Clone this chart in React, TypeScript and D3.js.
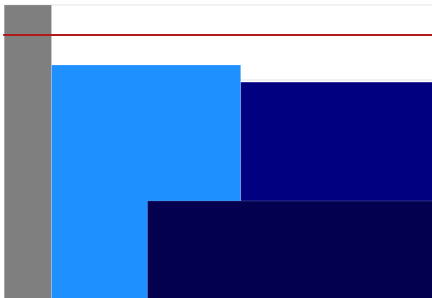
import React from "react";
import * as d3 from "d3";

const categories = ["A", "B", "C", "D"];
const startValues = [0, 1, 5, 3.03];
const endValues = [1, 5, 10, 10];
const heightValues = [100, 80, 74.3, 34.7];
const barColors = ["#7f7f7f", "#1e90ff", "#000080", "#02004f"];
const gridTicks = [0, 25, 50, 75, 100];
const referenceValue = 90;

const W = 432;
const H = 298;

export default function App() {
  const x = d3.scaleLinear().domain([0, 1]).range([4.2, 51.5]);
  const y = d3.scaleLinear().domain([0, 100]).range([305, 5]);
  return (
    <svg
      width={W}
      height={H}
      style={{ position: "absolute", left: 0, top: 0, display: "block" }}
    >
      <rect x={0} y={0} width={W} height={H} fill="#fff" />
      {gridTicks.map((t) => (
        <line
          key={t}
          x1={x(0)}
          x2={W}
          y1={y(t)}
          y2={y(t)}
          stroke="#ececec"
          strokeWidth={1.5}
        />
      ))}
      {categories.map((c, i) => (
        <rect
          key={c}
          x={x(startValues[i])}
          y={y(heightValues[i])}
          width={x(endValues[i]) - x(startValues[i])}
          height={y(0) - y(heightValues[i])}
          fill={barColors[i]}
          stroke="#ffffff"
          strokeOpacity={0.18}
          strokeWidth={1}
        />
      ))}
      <line
        x1={x(0) - 1}
        x2={W}
        y1={y(referenceValue)}
        y2={y(referenceValue)}
        stroke="#b51a1a"
        strokeWidth={2}
      />
    </svg>
  );
}
